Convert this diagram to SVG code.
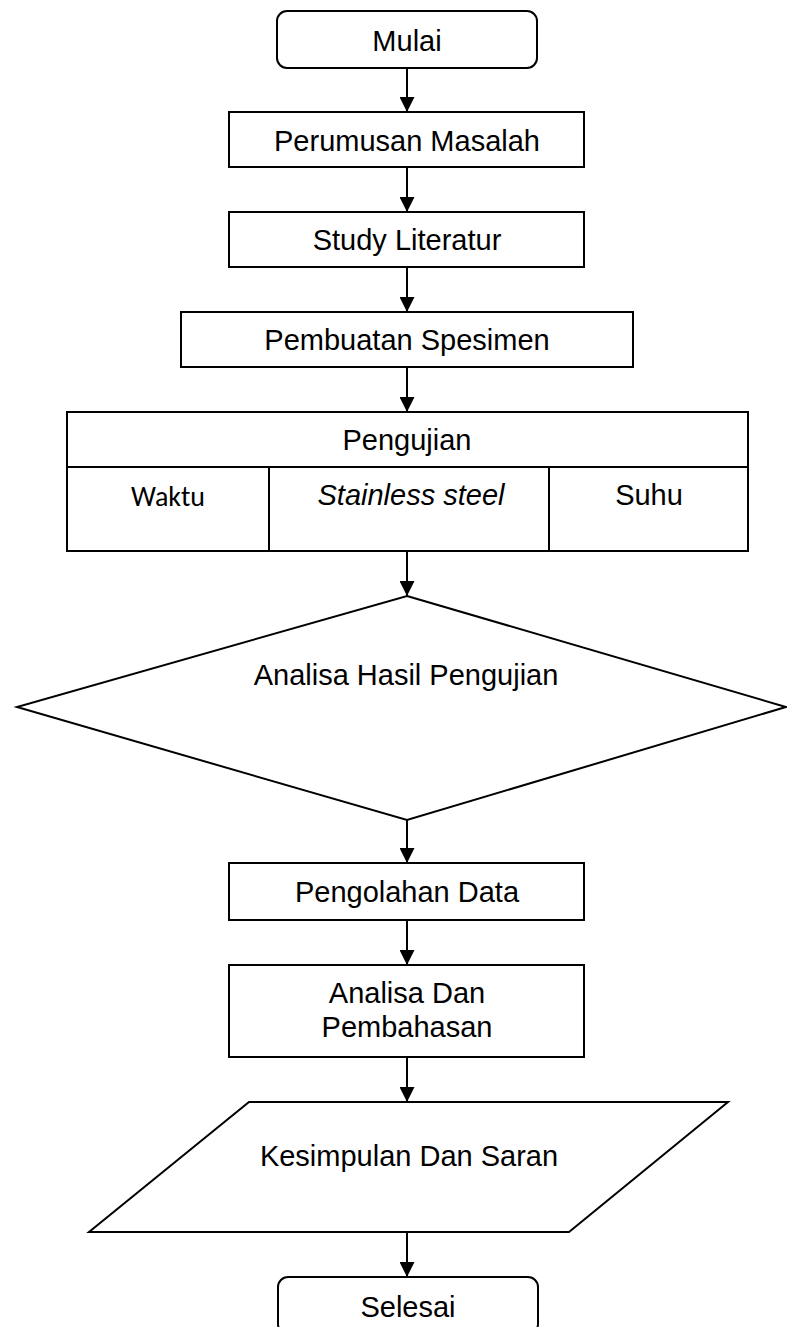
<svg xmlns="http://www.w3.org/2000/svg" width="787" height="1327" viewBox="0 0 787 1327">
<style>
.s{fill:#fff;stroke:#000;stroke-width:2}
.t{font-family:"Liberation Sans",Arial,sans-serif;font-size:29px;fill:#000;text-anchor:middle}
.c{font-family:Carlito,Lato,"Open Sans",sans-serif;font-size:28px;fill:#000;text-anchor:middle}
.l{stroke:#000;stroke-width:2;fill:none;marker-end:url(#a)}
</style>
<defs>
<marker id="a" viewBox="0 0 10 10" refX="10" refY="5" markerWidth="15" markerHeight="15" markerUnits="userSpaceOnUse" orient="auto">
<path d="M0,0 L10,5 L0,10 z" fill="#000"/>
</marker>
</defs>
<rect width="787" height="1327" fill="#fff"/>
<g id="connectors">
<line class="l" x1="407" y1="68" x2="407" y2="112"/>
<line class="l" x1="407" y1="167" x2="407" y2="212"/>
<line class="l" x1="407" y1="267" x2="407" y2="312"/>
<line class="l" x1="407" y1="367" x2="407" y2="412"/>
<line class="l" x1="407" y1="551" x2="407" y2="596"/>
<line class="l" x1="407" y1="820" x2="407" y2="863"/>
<line class="l" x1="407" y1="920" x2="407" y2="965"/>
<line class="l" x1="407" y1="1057" x2="407" y2="1102"/>
<line class="l" x1="407" y1="1232" x2="407" y2="1277"/>
</g>
<g id="mulai">
<rect class="s" x="277" y="11" width="260" height="57" rx="10"/>
<text class="t" x="407" y="51">Mulai</text>
</g>
<g id="perumusan">
<rect class="s" x="229" y="112" width="355" height="55"/>
<text class="t" x="407" y="151">Perumusan Masalah</text>
</g>
<g id="study">
<rect class="s" x="229" y="212" width="355" height="55"/>
<text class="t" x="407" y="250">Study Literatur</text>
</g>
<g id="pembuatan">
<rect class="s" x="181" y="312" width="452" height="55"/>
<text class="t" x="407" y="350">Pembuatan Spesimen</text>
</g>
<g id="pengujian">
<rect class="s" x="67" y="412" width="681" height="139"/>
<line x1="67" y1="467" x2="748" y2="467" stroke="#000" stroke-width="2"/>
<line x1="269" y1="467" x2="269" y2="551" stroke="#000" stroke-width="2"/>
<line x1="549" y1="467" x2="549" y2="551" stroke="#000" stroke-width="2"/>
<text class="t" x="407" y="450">Pengujian</text>
<text class="c" x="168" y="506">Waktu</text>
<text class="t" x="411" y="505" font-style="italic">Stainless steel</text>
<text class="t" x="649" y="505">Suhu</text>
</g>
<g id="analisa-hasil">
<polygon class="s" points="407,596 786,707 407,820 17,707"/>
<text class="t" x="406" y="685">Analisa Hasil Pengujian</text>
</g>
<g id="pengolahan">
<rect class="s" x="229" y="863" width="355" height="57"/>
<text class="t" x="407" y="902">Pengolahan Data</text>
</g>
<g id="analisa-dan">
<rect class="s" x="229" y="965" width="355" height="92"/>
<text class="t" x="407" y="1003">Analisa Dan</text>
<text class="t" x="407" y="1037">Pembahasan</text>
</g>
<g id="kesimpulan">
<polygon class="s" points="249,1102 728,1102 569,1232 89,1232"/>
<text class="t" x="409" y="1166">Kesimpulan Dan Saran</text>
</g>
<g id="selesai">
<rect class="s" x="278" y="1277" width="260" height="57" rx="10"/>
<text class="t" x="408" y="1317">Selesai</text>
</g>
</svg>
